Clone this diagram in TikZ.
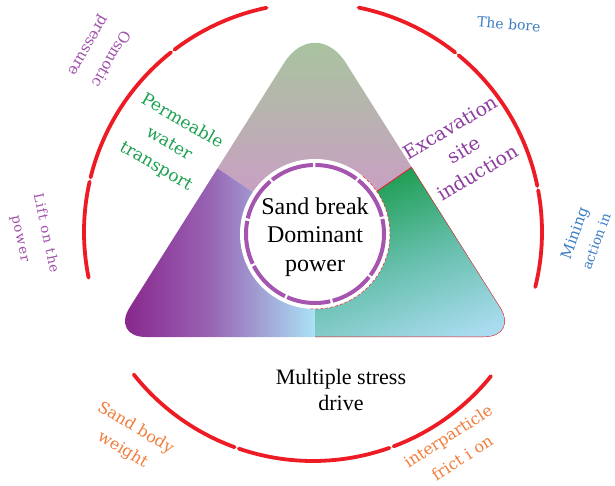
\documentclass[tikz,border=0pt]{standalone}
\usepackage{fontspec}
\setmainfont{Liberation Serif}
\newfontfamily\lblfont{DejaVu Serif}
\newfontfamily\liftfont[LetterSpace=9]{DejaVu Serif}
\definecolor{arcred}{RGB}{237,28,36}
\definecolor{lblpurple}{RGB}{160,80,170}
\definecolor{excpurple}{RGB}{140,60,160}
\definecolor{lblgreen}{RGB}{30,160,80}
\definecolor{lblblue}{RGB}{60,125,195}
\definecolor{lblorange}{RGB}{240,125,60}
\definecolor{ringpurple}{RGB}{165,85,175}
\definecolor{topA}{RGB}{168,196,158}
\definecolor{topB}{RGB}{210,150,205}
\definecolor{leftA}{RGB}{133,25,132}
\definecolor{leftM}{RGB}{152,100,180}
\definecolor{leftB}{RGB}{170,226,246}
\definecolor{rgtA}{RGB}{25,155,75}
\definecolor{rgtM}{RGB}{100,190,170}
\definecolor{rgtB}{RGB}{170,220,240}
\begin{document}
\begin{tikzpicture}[x=1pt,y=-1pt,
  redarc/.style={draw=arcred, line width=3.8pt, line cap=round},
  thinred/.style={draw=arcred, line width=0.8pt},
  lbl/.style={align=center, inner sep=0pt}]
\useasboundingbox (0,0) rectangle (615,486);
\coordinate (C) at (315,234);
\coordinate (O) at (313,232);
% triangle regions
\begin{scope}
  \clip (284,63.1) .. controls (301.1,36) and (328.9,36) .. (346,63.1) -- (500.3,307.4) .. controls (510.6,323.8) and (503.3,337) .. (484,337) -- (146,337) .. controls (126.7,337) and (119.4,323.8) .. (129.7,307.4) -- cycle;
  \shade[top color=topA, bottom color=topB] (C) -- (212,164.6) -- (212,40) -- (418,40) -- (418,162.9) -- cycle;
  \shade[left color=leftA, right color=leftB, middle color=leftM] (C) -- (212,164.6) -- (105,164.6) -- (105,345) -- (315,345) -- cycle;
  \shade[top color=rgtA, bottom color=rgtB, middle color=rgtM, shading angle=20] (C) -- (415,165) -- (525,165) -- (525,345) -- (315,345) -- cycle;
  \draw[thinred] (C) -- (530,85.5);
  \begin{scope}
    \clip (C) -- (415,165) -- (525,165) -- (525,345) -- (315,345) -- cycle;
    \draw[thinred] (284,63.1) .. controls (301.1,36) and (328.9,36) .. (346,63.1) -- (500.3,307.4) .. controls (510.6,323.8) and (503.3,337) .. (484,337) -- (146,337) .. controls (126.7,337) and (119.4,323.8) .. (129.7,307.4) -- cycle;
  \end{scope}
\end{scope}
% central disk
\fill[white] (C) circle[radius=75];
\draw[arcred, line width=0.5pt, dash pattern=on 3pt off 2pt] (C) ++(-50:75) arc[start angle=-50, end angle=95, radius=75];
\draw[ringpurple, line width=4pt, dash pattern=on 44pt off 2.5pt] (C) circle[radius=69];
% red arcs
\draw[redarc] (O) ++(-101.7:229) arc[start angle=-101.7, end angle=-127.2, radius=229];
\draw[redarc] (O) ++(-128.3:229) arc[start angle=-128.3, end angle=-166.2, radius=229];
\draw[redarc] (O) ++(-167.3:229) arc[start angle=-167.3, end angle=-191.5, radius=229];
\draw[redarc] (O) ++(13.9:229) arc[start angle=13.9, end angle=-10.5, radius=229];
\draw[redarc] (O) ++(-11.6:229) arc[start angle=-11.6, end angle=-50.5, radius=229];
\draw[redarc] (O) ++(-51.6:229) arc[start angle=-51.6, end angle=-78.5, radius=229];
\draw[redarc] (O) ++(-218.5:229) arc[start angle=-218.5, end angle=-250, radius=229];
\draw[redarc] (O) ++(-251.1:229) arc[start angle=-251.1, end angle=-289.5, radius=229];
\draw[redarc] (O) ++(-290.6:229) arc[start angle=-290.6, end angle=-321, radius=229];
% labels
\node[lbl, text=lblpurple, font=\lblfont\fontsize{15}{26}\selectfont, rotate=240] (osm) at (99,52) {Osmotic\\pressure};
\node[lbl, text=lblgreen, font=\lblfont\fontsize{17}{26}\selectfont, rotate=-30] (perm) at (169,144) {Permeable\\water\\transport};
\node[lbl, text=lblpurple, font=\liftfont\fontsize{13.5}{26}\selectfont, rotate=-78] (lift) at (33,236) {Lift on the\\power};
\node[lbl, text=lblblue, font=\lblfont\fontsize{14}{17}\selectfont, rotate=-5] (bore) at (509,24) {The bore};
\node[lbl, text=excpurple, font=\lblfont\fontsize{19}{26.5}\selectfont, rotate=31] (exc) at (464,150) {Excavation\\site\\induction};
\node[lbl, text=lblblue, font=\lblfont\fontsize{15}{23}\selectfont, rotate=70] (mine) at (585,237) {Mining\\{\fontsize{13.5}{23}\selectfont action in}};
\node[lbl, text=lblorange, font=\lblfont\fontsize{16}{25}\selectfont, rotate=-31] (sbw) at (129,439) {Sand body\\weight};
\node[lbl, text=lblorange, font=\lblfont\fontsize{16}{26}\selectfont, rotate=33] (fric) at (455,447) {interparticle\\frict i on};
\node[lbl, font=\fontsize{24}{28.5}\selectfont] (core) at (315,237) {Sand break\\Dominant\\power};
\node[lbl, font=\fontsize{22}{25.5}\selectfont] (msd) at (341,390) {Multiple stress\\drive};
\end{tikzpicture}
\end{document}
